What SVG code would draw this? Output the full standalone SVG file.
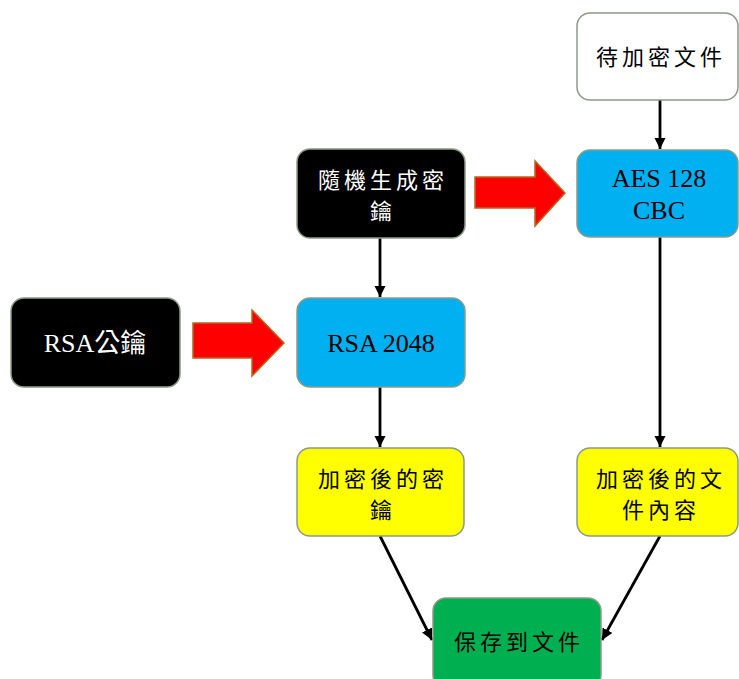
<svg xmlns="http://www.w3.org/2000/svg" width="739" height="679" viewBox="0 0 739 679">
<style>
.box{stroke:#8c9a88;stroke-width:1.5}
.t{font-family:"Liberation Serif","Noto Sans CJK TC",serif;font-size:22px;text-anchor:middle;letter-spacing:4px}
.l{font-family:"Liberation Serif","Noto Sans CJK TC",serif;font-size:26px;text-anchor:middle}
.w{fill:#ffffff}
.k{fill:#000000}
.conn{stroke:#000;stroke-width:2.8;fill:none;marker-end:url(#ah)}
.big{fill:#ff0000;stroke:#b8651e;stroke-width:1.5}
</style>
<defs>
<marker id="ah" viewBox="0 0 10 10" refX="10" refY="5" markerWidth="4" markerHeight="4" orient="auto" markerUnits="strokeWidth">
<path d="M0,0 L10,5 L0,10 z" fill="#000"/>
</marker>
</defs>
<rect width="739" height="679" fill="#ffffff"/>
<g id="connectors">
<line class="conn" x1="660" y1="100" x2="660" y2="149"/>
<line class="conn" x1="380" y1="238" x2="380" y2="297"/>
<line class="conn" x1="380" y1="387" x2="380" y2="447"/>
<line class="conn" x1="660" y1="237" x2="660" y2="447"/>
<line class="conn" x1="380" y1="536" x2="432" y2="640"/>
<line class="conn" x1="660" y1="536" x2="602" y2="640"/>
<path class="big" d="M475,177 L535,177 L535,161 L565,193 L535,226 L535,208 L475,208 z"/>
<path class="big" d="M193,323 L252,323 L252,310 L284,343 L252,376 L252,358 L193,358 z"/>
</g>
<g id="file">
<rect class="box" x="577" y="13" width="161" height="87" rx="13" fill="#ffffff"/>
<text class="t k" x="661" y="65">待加密文件</text>
</g>
<g id="randkey">
<rect class="box" x="297" y="149" width="168" height="89" rx="13" fill="#000000"/>
<text class="t w" x="383" y="188">隨機生成密</text>
<text class="t w" x="383" y="219">鑰</text>
</g>
<g id="aes">
<rect class="box" x="577" y="150" width="161" height="87" rx="13" fill="#00b0f0"/>
<text class="l k" x="659" y="187">AES 128</text>
<text class="l k" x="659" y="219">CBC</text>
</g>
<g id="rsapub">
<rect class="box" x="11" y="298" width="169" height="89" rx="13" fill="#000000"/>
<text class="l w" x="95" y="352">RSA公鑰</text>
</g>
<g id="rsa">
<rect class="box" x="297" y="298" width="168" height="89" rx="13" fill="#00b0f0"/>
<text class="l k" x="381" y="352">RSA 2048</text>
</g>
<g id="enckey">
<rect class="box" x="297" y="448" width="167" height="88" rx="13" fill="#ffff00"/>
<text class="t k" x="383" y="487">加密後的密</text>
<text class="t k" x="383" y="518">鑰</text>
</g>
<g id="encfile">
<rect class="box" x="577" y="448" width="161" height="88" rx="13" fill="#ffff00"/>
<text class="t k" x="661" y="487">加密後的文</text>
<text class="t k" x="661" y="518">件內容</text>
</g>
<g id="save">
<rect class="box" x="433" y="598" width="168" height="90" rx="13" fill="#00b050"/>
<text class="t k" x="519" y="650">保存到文件</text>
</g>
</svg>
